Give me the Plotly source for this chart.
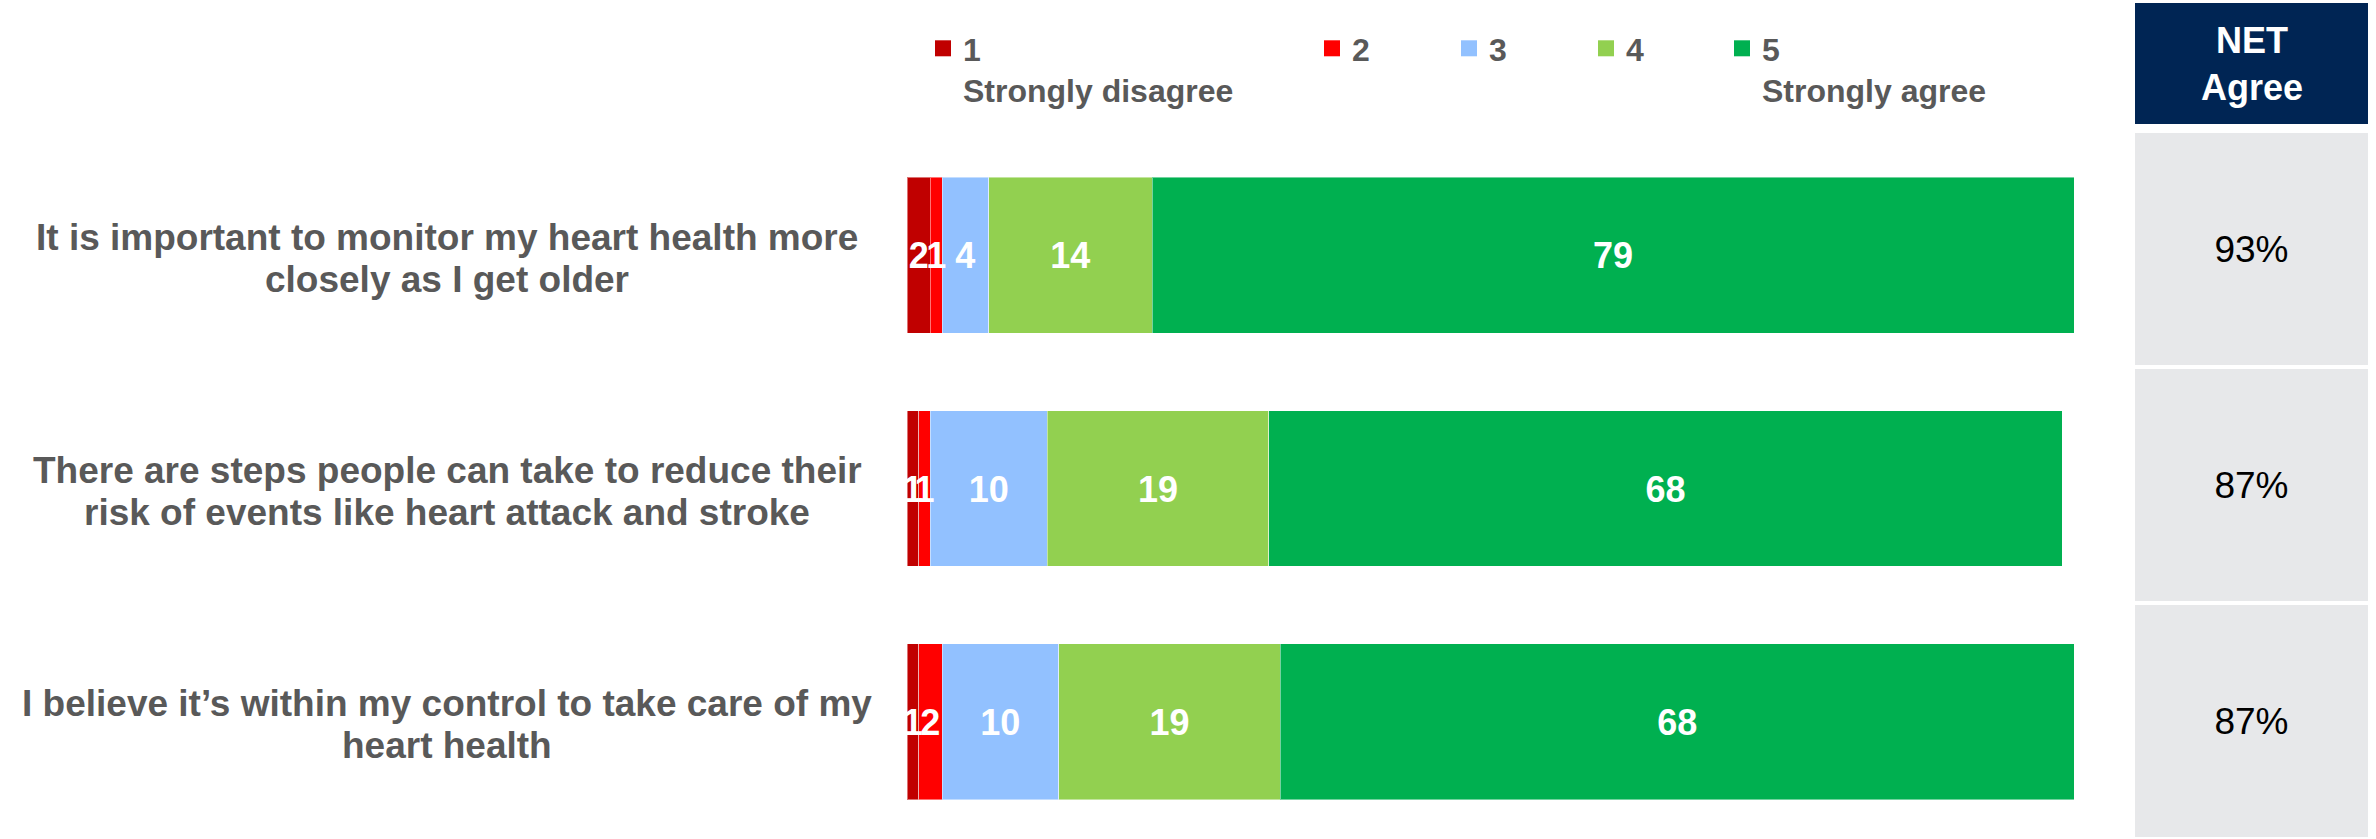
import plotly.graph_objects as go

# Survey statements (line breaks mark where each label wraps)
statements = [
    "It is important to monitor my heart health more<br>closely as I get older",
    "There are steps people can take to reduce their<br>risk of events like heart attack and stroke",
    "I believe it’s within my control to take care of my<br>heart health",
]
scale_names = ["1<br>Strongly disagree", "2", "3", "4", "5<br>Strongly agree"]
score_1 = [2, 1, 1]
score_2 = [1, 1, 2]
score_3 = [4, 10, 10]
score_4 = [14, 19, 19]
score_5 = [79, 68, 68]
net_agree = [93, 87, 87]
net_header = "NET<br>Agree"

colors = ["#C00000", "#FF0000", "#92C1FF", "#92D050", "#00B050"]
series = [score_1, score_2, score_3, score_4, score_5]

W, H = 2376, 839
FONT = "Liberation Sans, Arial, sans-serif"
GREY = "#595959"


def px_x(p):
    return p / W


def px_y(p):
    return 1 - p / H


fig = go.Figure()
rows = list(range(len(statements)))

# stacked agreement bars
for vals, col in zip(series, colors):
    fig.add_trace(go.Bar(
        x=vals, y=rows, orientation="h",
        marker=dict(color=col, line=dict(color="rgba(255,255,255,0.45)", width=1)),
        width=0.668, showlegend=False, hoverinfo="skip",
    ))

# value labels centred on each segment (nudged slightly down for optical centring)
label_rows = [r + 0.018 for r in rows]
left = [0] * len(statements)
for vals in series:
    centers = [l + v / 2 for l, v in zip(left, vals)]
    fig.add_trace(go.Scatter(
        x=centers, y=label_rows, mode="text", text=[str(v) for v in vals],
        textposition="middle center",
        textfont=dict(family=FONT, size=36, color="white", weight="bold"),
        showlegend=False, hoverinfo="skip", cliponaxis=False,
    ))
    left = [l + v for l, v in zip(left, vals)]

# NET agree cells
fig.add_trace(go.Bar(
    x=[1] * len(net_agree), y=rows, orientation="h",
    xaxis="x2", yaxis="y2", width=0.983,
    marker=dict(color="#E7E8EA", line=dict(width=0)),
    text=[f"{v}%" for v in net_agree], textposition="inside",
    insidetextanchor="middle", textangle=0,
    textfont=dict(family=FONT, size=37, color="black"),
    showlegend=False, hoverinfo="skip",
))

# legend entries, one legend per scale point
legend_left = [923, 1312, 1449, 1586, 1722]
for i, (name, col) in enumerate(zip(scale_names, colors)):
    lg = "legend" if i == 0 else f"legend{i + 1}"
    fig.add_trace(go.Scatter(
        x=[None], y=[None], mode="markers", name=name,
        marker=dict(symbol="square", size=16, color=col, line=dict(width=0)),
        legend=lg, hoverinfo="skip",
    ))

layout_legends = {}
for i, lx in enumerate(legend_left):
    key = "legend" if i == 0 else f"legend{i + 1}"
    layout_legends[key] = dict(
        x=px_x(lx), y=px_y(21), xanchor="left", yanchor="top",
        bgcolor="rgba(0,0,0,0)", borderwidth=0, valign="top",
        font=dict(family=FONT, size=32, color=GREY, weight="bold"),
        itemclick=False, itemdoubleclick=False,
    )

annotations = []
# statement labels, one annotation per wrapped line
for i, s in enumerate(statements):
    lines = s.split("<br>")
    n = len(lines)
    for j, line in enumerate(lines):
        annotations.append(dict(
            x=px_x(447), xref="paper", y=i, yref="y",
            text=line, showarrow=False, xanchor="center", yanchor="middle",
            yshift=((n - 1) / 2 - j) * 42 - 3,
            font=dict(family=FONT, size=37, color=GREY, weight="bold"),
        ))

annotations.append(dict(
    x=px_x(2251.5), xref="paper", y=px_y(64), yref="paper",
    text=net_header, showarrow=False, xanchor="center", yanchor="middle",
    font=dict(family=FONT, size=36, color="white", weight="bold"),
))

shapes = [dict(
    type="rect", xref="paper", yref="paper",
    x0=px_x(2135), x1=px_x(2368), y0=px_y(124), y1=px_y(3),
    fillcolor="#002554", line=dict(width=0), layer="below",
)]

fig.update_layout(
    width=W, height=H,
    margin=dict(l=0, r=0, t=0, b=0),
    paper_bgcolor="white", plot_bgcolor="white",
    barmode="stack",
    xaxis=dict(domain=[px_x(907), px_x(2074)], range=[0, 100],
               visible=False, fixedrange=True),
    yaxis=dict(domain=[px_y(838.5), px_y(138.5)], range=[2.5, -0.5],
               visible=False, fixedrange=True),
    xaxis2=dict(domain=[px_x(2135), px_x(2368)], range=[0, 1],
                visible=False, fixedrange=True, anchor="y2"),
    yaxis2=dict(domain=[0, px_y(131)], range=[2.5, -0.5],
                visible=False, fixedrange=True, anchor="x2"),
    annotations=annotations,
    shapes=shapes,
    hovermode=False,
    **layout_legends,
)

fig.write_html("out.html", config={"displayModeBar": False})
